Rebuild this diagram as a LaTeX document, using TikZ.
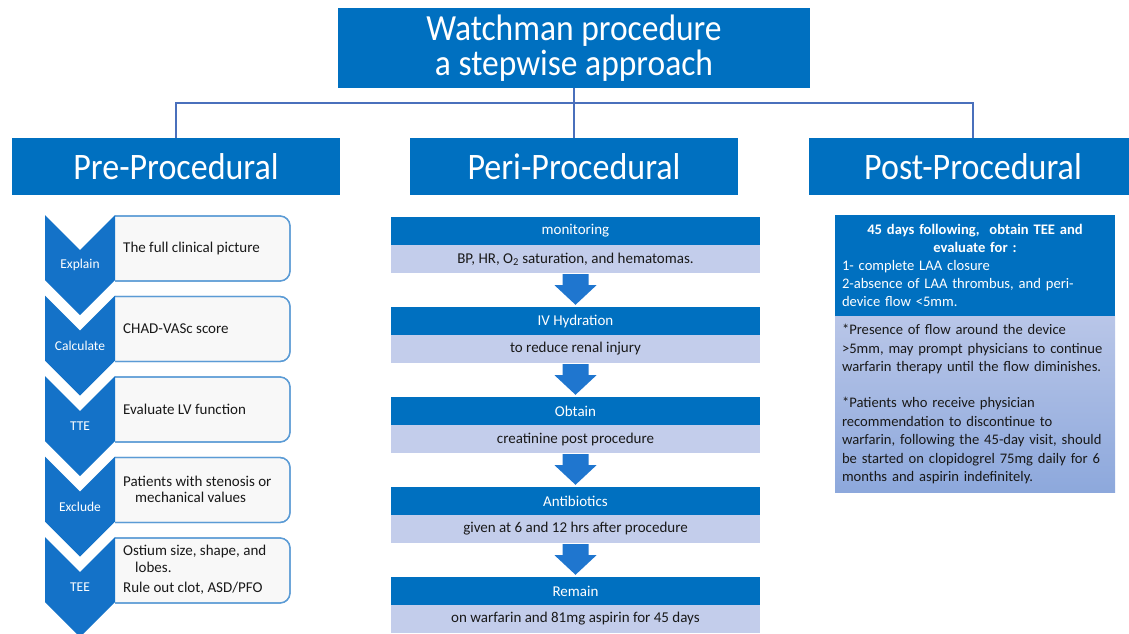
\documentclass[tikz,border=0pt]{standalone}
\usepackage{fontspec}
\setmainfont{Carlito}
\usetikzlibrary{calc}
\definecolor{dblue}{HTML}{0070C0}
\definecolor{chevc}{HTML}{1472C8}
\definecolor{arrc}{HTML}{1F76CF}
\definecolor{lightrow}{HTML}{C3CDEB}
\definecolor{boxfill}{HTML}{F8F8F8}
\definecolor{boxline}{HTML}{5B9BD5}
\definecolor{connc}{HTML}{4A70BC}
\definecolor{ltop}{HTML}{B9C6E8}
\definecolor{lbot}{HTML}{8DA8DC}
\newcommand{\tallt}[1]{\scalebox{1}[1.1]{#1}}
\begin{document}
\begin{tikzpicture}[x=1pt,y=-1pt,
  titlebox/.style={fill=dblue,text=white,minimum width=472pt,minimum height=80pt,inner sep=0pt,align=center,font=\fontsize{33.5}{35}\selectfont},
  hdrbox/.style={fill=dblue,text=white,minimum width=328pt,minimum height=57pt,inner sep=0pt,font=\fontsize{34}{36}\selectfont},
  conn/.style={draw=connc,line width=1.6pt},
  chevlab/.style={text=white,inner sep=0pt,font=\fontsize{13.5}{15}\selectfont},
  stepbox/.style={fill=boxfill,draw=boxline,line width=1.3pt,rounded corners=10pt},
  boxtext/.style={anchor=west,inner sep=0pt,align=left,text=black!90,font=\fontsize{15}{16.5}\selectfont},
  midhead/.style={fill=dblue,text=white,minimum width=369pt,minimum height=28pt,inner sep=0pt,font=\fontsize{15}{17}\selectfont},
  middesc/.style={fill=lightrow,text=black!90,minimum width=369pt,minimum height=28pt,inner sep=0pt,font=\fontsize{15}{17}\selectfont},
  postdark/.style={fill=dblue,text=white,minimum width=280pt,minimum height=101pt,inner sep=0pt,text width=266pt,align=left,font=\fontsize{14.6}{18.1}\selectfont},
  postlight/.style={top color=ltop,bottom color=lbot,text=black!90,minimum width=280pt,minimum height=176pt,inner sep=0pt,text width=266pt,align=left,font=\fontsize{14.6}{18.4}\selectfont}
]
\useasboundingbox (0,0) rectangle (1129,634);

% title and headers
\node[titlebox] (title) at (574,48) {\tallt{Watchman procedure}\\\tallt{a stepwise approach}};
\node[hdrbox] (pre) at (176,166.5) {\tallt{Pre-Procedural}};
\node[hdrbox] (peri) at (574,166.5) {\tallt{Peri-Procedural}};
\node[hdrbox] (post) at (973,166.5) {\tallt{Post-Procedural}};

\coordinate (j) at ($(title.south)+(0,15)$);
\draw[conn] (title.south) -- (j);
\draw[conn] (pre.north) |- (j) -| (post.north);
\draw[conn] (j) -- (peri.north);

% left column: chevrons and boxes
\foreach \i/\lab in {0/Explain,1/Calculate,2/TTE,3/Exclude,4/TEE}{
  \pgfmathsetmacro\T{215+80.5*\i}
  \fill[stepbox] (115,\T+1) -- (290,\T+1) -- (290,\T+66) -- (115,\T+66);
  \draw[stepbox,fill=none] (115,\T+1) -- (290,\T+1) -- (290,\T+66) -- (115,\T+66);
  \fill[chevc] (45,\T) -- (80,\T+35) -- (115,\T) -- (115,\T+65) -- (80,\T+100) -- (45,\T+65) -- cycle;
  \node[chevlab] (c\i) at (80,\T+50) {\lab};
}
\node[boxtext] (b0) at (123,248) {The full clinical picture};
\node[boxtext] (b1) at (123,328.5) {CHAD-VASc score};
\node[boxtext] (b2) at (123,409) {Evaluate LV function};
\node[boxtext] (b3) at (123,489.5) {Patients with stenosis or\\\hspace*{12pt}mechanical values};
\node[boxtext] (b4) at (123,570) {Ostium size, shape, and\\\hspace*{12pt}lobes.\\[4pt]Rule out clot, ASD/PFO};

% middle column
\foreach \k/\h/\d in {0/monitoring/{BP, HR, O\textsubscript{2} saturation, and hematomas.},
                      1/IV Hydration/{to reduce renal injury},
                      2/Obtain/{creatinine post procedure},
                      3/Antibiotics/{given at 6 and 12 hrs after procedure},
                      4/Remain/{on warfarin and 81mg aspirin for 45 days}}{
  \pgfmathsetmacro\Y{217+90*\k}
  \node[midhead] (h\k) at (575.5,\Y+14) {\h};
  \node[middesc] (d\k) at (575.5,\Y+42) {\d};
}
\foreach \k in {0,1,2,3}{
  \pgfmathtruncatemacro\n{\k+1}
  \fill[arrc] ($(d\k.south)+(-13,1)$) -- ($(d\k.south)+(13,1)$) -- ($(d\k.south)+(13,12)$)
    -- ($(d\k.south)+(21,12)$) -- ($(h\n.north)+(0,-2)$) -- ($(d\k.south)+(-21,12)$)
    -- ($(d\k.south)+(-13,12)$) -- cycle;
}

% right column
\node[postdark] (pd) at (975,265.5) {\makebox[266pt]{\bfseries 45 days following,\ \ obtain TEE and}\\
\makebox[266pt]{\bfseries evaluate for :}\\
1- complete LAA closure\\
2-absence of LAA thrombus, and peri-\\
device flow <5mm.};
\node[postlight] (pl) at (975,404) {*Presence of flow around the device\\
>5mm, may prompt physicians to continue\\
warfarin therapy until the flow diminishes.\\[18pt]
*Patients who receive physician\\
recommendation to discontinue to\\
warfarin, following the 45-day visit, should\\
be started on clopidogrel 75mg daily for 6\\
months and aspirin indefinitely.};
\end{tikzpicture}
\end{document}
